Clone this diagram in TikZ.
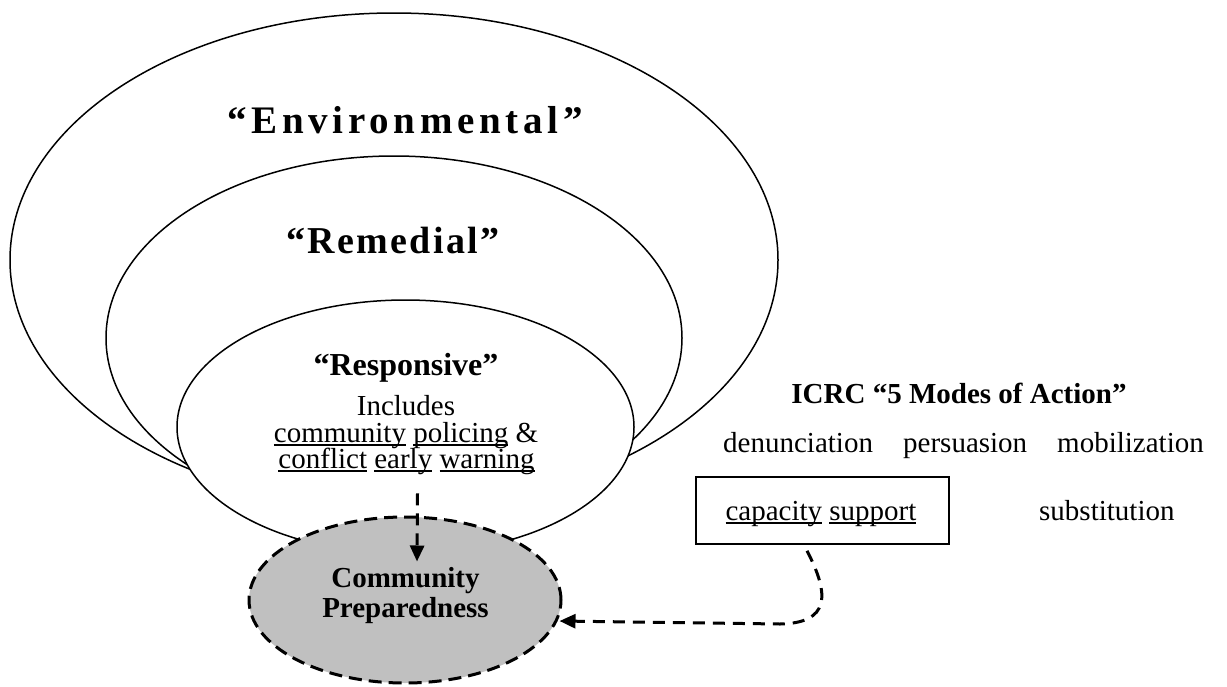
\documentclass[tikz,border=0pt]{standalone}
\usepackage{fontspec}
\setmainfont{Liberation Serif}
\newfontfamily\envfont[LetterSpace=12]{Liberation Serif}
\newfontfamily\remfont[LetterSpace=6]{Liberation Serif}
\usetikzlibrary{shapes.geometric,arrows.meta}
\definecolor{cpgray}{RGB}{192,192,192}
\newcommand\ulw[1]{\setbox0=\hbox{#1}\rlap{\rule[-4.2pt]{\wd0}{2pt}}\box0\relax}
\tikzset{
  ring/.style={ellipse, draw, line width=1.5pt, fill=white, inner sep=0pt},
  lbl/.style={inner sep=0pt, anchor=base, font=\fontsize{29pt}{30pt}\selectfont},
  lblw/.style={lbl, anchor=base west},
  lblb/.style={lbl, font=\fontsize{29pt}{30pt}\selectfont\bfseries},
  dasharrow/.style={line width=3pt, dash pattern=on 12pt off 8pt, -{Triangle[length=16pt,width=14pt]}},
}
\begin{document}
\begin{tikzpicture}[x=1pt,y=-1pt]
\useasboundingbox (0,0) rectangle (1227,686);
% nested rings
\node[ring, minimum width=768pt, minimum height=494pt] (env) at (394,260) {};
\node[ring, minimum width=576pt, minimum height=364pt] (rem) at (394,338) {};
\node[ring, minimum width=457pt, minimum height=254pt] (resp) at (405.5,427) {};
% community preparedness
\node[ellipse, inner sep=0pt, fill=cpgray, draw, line width=3pt, dash pattern=on 13pt off 7pt,
      minimum width=312pt, minimum height=166pt] (cp) at (405,600) {};
% ring labels
\node[inner sep=0pt, anchor=base, font=\fontsize{39pt}{42pt}\envfont\bfseries] (envt) at (405,133) {“Environmental”};
\node[inner sep=0pt, anchor=base, font=\fontsize{38pt}{42pt}\remfont\bfseries] (remt) at (393,253) {“Remedial”};
\node[inner sep=0pt, anchor=base, font=\fontsize{32pt}{34pt}\selectfont\bfseries] (respt) at (406,375) {“Responsive”};
\node[lbl] (inc1) at (406,415) {Includes};
\node[lbl] (inc2) at (406,442) {\ulw{community} \ulw{policing} \&};
\node[lbl] (inc3) at (406.5,468) {\ulw{conflict} \ulw{early} \ulw{warning}};
\node[lblb] (cp1) at (405.5,587) {Community};
\node[lblb] (cp2) at (405.5,617) {Preparedness};
% ICRC
\node[lblb] (icrc) at (959,403) {ICRC “5 Modes of Action”};
\node[lblw] (den) at (723,452) {denunciation};
\node[lblw] (per) at (903,452) {persuasion};
\node[lblw] (mob) at (1057,452) {mobilization};
\node[draw, line width=1.6pt, inner sep=0pt, minimum width=253pt, minimum height=67pt] (box) at (822.5,510.5) {};
\node[lbl] (cap) at (821,520) {\ulw{capacity} \ulw{support}};
\node[lblw] (sub) at (1039,520) {substitution};
% connectors
\draw[dasharrow] ([xshift=11pt,yshift=-19pt]inc3.south) -- ([xshift=12pt,yshift=-46pt]cp.north);
\draw[dasharrow] ([xshift=-15.5pt,yshift=-6pt]box.south) .. controls (830,595) and (830,623) .. (780,624) -- ([xshift=-3pt,yshift=-21pt]cp.east);
\end{tikzpicture}
\end{document}
